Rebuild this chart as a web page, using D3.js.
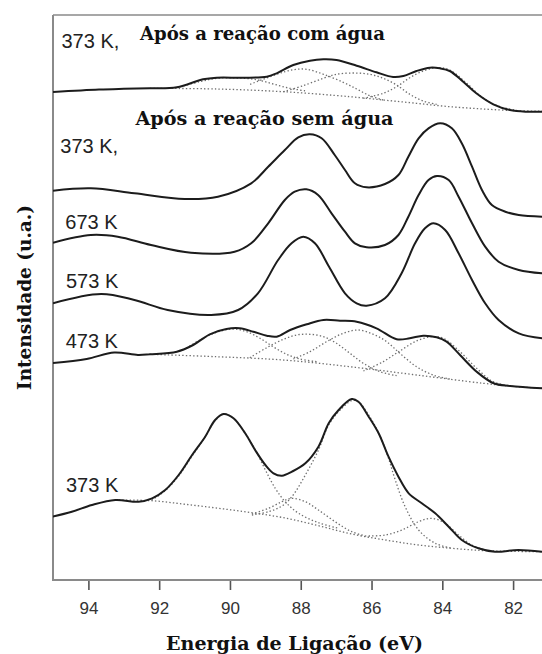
<!DOCTYPE html>
<html>
<head>
<meta charset="utf-8">
<script src="https://cdn.jsdelivr.net/npm/d3@7"></script>
<style>
  html, body { margin: 0; padding: 0; background: #fff; }
  svg { display: block; }
</style>
</head>
<body>
<svg id="chart" width="542" height="654"></svg>
<script>
// ---- Data: binding energy (eV), intensity (arbitrary units, stacked offsets) ----
const energyTicks = [94, 92, 90, 88, 86, 84, 82];
const spectrumLabels = ["373 K,", "373 K,", "673 K", "573 K", "473 K", "373 K"];
const groupTitles = ["Após a reação com água", "Após a reação sem água"];
const xTitle = "Energia de Ligação (eV)";
const yTitle = "Intensidade (u.a.)";

// 373 K, after reaction with water: measured envelope and fitted components
const wet373 = [[95.0,48.8],[93.7,49.05],[93.0,49.12],[92.27,49.17],[91.5,49.27],[90.76,50.07],[90.38,50.23],[89.62,50.23],[88.96,50.33],[88.68,50.67],[88.21,51.5],[87.74,51.93],[87.36,52.07],[86.99,52.0],[86.42,51.43],[85.86,50.77],[85.39,50.3],[85.1,50.4],[84.73,50.9],[84.35,51.23],[84.07,51.17],[83.79,50.9],[83.41,49.83],[83.04,48.67],[82.56,47.57],[82.09,47.0],[81.62,46.83],[81.18,46.83]];
const wet373Bg = [[92.26,49.17],[90.38,49.1],[88.49,48.83],[86.61,48.33],[85.67,48.0],[84.73,47.67],[83.79,47.33],[82.84,47.1],[81.9,46.93],[81.18,46.88]];
const wet373P1 = [[91.51,49.23],[90.85,49.83],[90.38,50.17],[89.81,50.2],[89.25,50.03],[88.78,49.6],[88.31,49.17],[87.83,48.9]];
const wet373P2 = [[89.43,49.57],[88.68,50.57],[88.21,51.03],[87.83,51.07],[87.36,50.57],[86.8,49.77],[86.42,49.1],[86.05,48.43],[85.67,48.0]];
const wet373P3 = [[88.49,48.83],[87.93,49.43],[87.36,50.17],[86.99,50.57],[86.52,50.7],[86.05,50.57],[85.67,50.17],[85.29,49.5],[84.92,48.57],[84.54,47.9],[84.16,47.57]];
const wet373P4 = [[86.23,48.17],[85.67,48.67],[85.29,49.33],[84.92,50.23],[84.54,50.9],[84.16,51.23],[83.79,51.0],[83.31,49.67],[82.84,48.17],[82.37,47.33],[81.9,46.97]];

// after reaction without water
const dry373 = [[95.0,38.93],[93.93,39.17],[92.7,38.67],[91.28,38.1],[90.34,38.33],[89.4,39.67],[88.92,41.33],[88.45,43.0],[88.07,44.27],[87.74,44.57],[87.41,44.17],[87.04,42.5],[86.75,41.0],[86.47,39.67],[86.14,39.27],[85.62,39.6],[85.24,40.5],[84.96,42.33],[84.67,44.17],[84.39,45.17],[84.06,45.67],[83.73,45.17],[83.45,43.67],[83.16,41.33],[82.88,39.0],[82.6,37.5],[82.22,36.83],[81.84,36.5],[81.18,36.33]];
const dry673 = [[95.0,33.73],[93.93,34.5],[93.17,34.33],[92.23,33.5],[91.1,32.73],[89.87,32.83],[89.4,33.67],[88.92,35.67],[88.45,38.0],[88.17,38.83],[87.84,39.07],[87.51,38.5],[87.13,36.67],[86.75,34.83],[86.47,33.67],[86.14,33.27],[85.62,33.5],[85.24,34.5],[84.96,36.33],[84.67,38.5],[84.39,40.0],[84.15,40.4],[83.82,40.0],[83.54,38.33],[83.16,35.67],[82.79,33.33],[82.41,31.83],[81.84,31.0],[81.18,30.67]];
const dry573 = [[95.0,27.67],[93.64,28.6],[92.7,28.0],[91.76,27.0],[90.53,26.5],[89.77,27.0],[89.21,28.67],[88.64,32.0],[88.26,33.67],[87.93,34.33],[87.6,33.67],[87.2,31.33],[86.75,28.67],[86.42,27.67],[86.14,27.43],[85.62,28.17],[85.15,30.67],[84.77,33.67],[84.49,35.17],[84.25,35.67],[83.92,35.0],[83.54,32.67],[83.16,30.0],[82.79,27.67],[82.41,26.0],[81.84,24.67],[81.18,24.17]];
const dry473 = [[95.0,21.7],[94.05,22.1],[93.27,22.75],[92.6,22.5],[92.26,22.57],[91.5,22.83],[91.04,23.5],[90.57,24.57],[90.1,25.1],[89.72,25.17],[89.34,24.83],[88.96,24.43],[88.68,24.33],[88.3,25.0],[87.83,25.57],[87.36,26.0],[86.89,25.93],[86.42,25.83],[85.86,25.17],[85.29,24.07],[84.92,24.17],[84.54,24.43],[84.16,24.27],[83.88,23.83],[83.5,22.5],[83.03,20.83],[82.55,19.67],[82.08,19.4],[81.18,19.17]];
const dry473Bg = [[92.26,22.57],[90.38,22.33],[88.49,22.0],[86.61,21.33],[84.73,20.5],[82.84,19.67],[81.9,19.33],[81.18,19.17]];
const dry473P1 = [[91.32,23.0],[90.85,24.0],[90.38,24.77],[89.91,25.1],[89.53,24.83],[89.15,24.17],[88.78,23.33],[88.4,22.57],[88.02,22.1],[87.55,21.83]];
const dry473P2 = [[89.44,22.23],[88.96,23.23],[88.49,24.07],[88.12,24.5],[87.74,24.57],[87.36,24.33],[86.99,23.67],[86.61,22.67],[86.23,21.67],[85.76,20.83],[85.29,20.43]];
const dry473P3 = [[88.21,22.1],[87.74,22.83],[87.27,23.83],[86.8,24.67],[86.37,25.0],[85.95,24.57],[85.57,23.83],[85.2,22.67],[84.73,21.33],[84.26,20.5],[83.79,20.1]];
const dry473P4 = [[86.23,20.9],[85.67,21.83],[85.2,22.9],[84.73,23.9],[84.3,24.33],[83.97,24.17],[83.5,22.83],[83.03,21.17],[82.56,19.83],[82.09,19.4]];

// 373 K reference spectrum with its fit
const base373 = [[95.03,6.33],[94.47,6.83],[93.9,7.5],[93.24,8.0],[92.58,7.83],[92.2,8.17],[91.83,9.0],[91.45,10.5],[91.07,12.5],[90.7,14.33],[90.42,16.0],[90.18,16.6],[89.9,16.17],[89.57,14.67],[89.29,13.0],[89.0,11.5],[88.77,10.67],[88.53,10.43],[88.25,10.83],[87.87,11.67],[87.5,13.33],[87.21,15.67],[86.93,17.0],[86.56,18.1],[86.37,17.83],[86.08,16.33],[85.8,14.67],[85.52,12.33],[85.24,10.33],[84.95,8.67],[84.58,7.67],[84.2,6.67],[83.82,5.33],[83.45,4.0],[82.98,3.17],[82.51,2.83],[81.85,3.0],[81.18,2.83]];
const base373Bg = [[93.24,8.0],[92.21,7.93],[91.26,7.57],[90.32,7.17],[89.38,6.73],[88.44,6.2],[87.5,5.43],[86.56,4.6],[85.61,4.0],[84.67,3.5],[83.73,3.17],[82.79,2.93],[81.18,2.83]];
const base373P1 = [[92.21,8.0],[91.83,8.93],[91.45,10.4],[91.07,12.4],[90.7,14.33],[90.42,15.93],[90.18,16.6],[89.9,16.17],[89.57,14.67],[89.29,13.07],[89.0,11.0],[88.72,9.17],[88.44,7.83],[88.06,6.67],[87.5,5.73],[86.93,5.17]];
const base373P2 = [[89.38,6.6],[88.91,7.17],[88.53,7.83],[88.25,8.17],[87.87,7.83],[87.5,7.0],[87.03,5.83],[86.56,4.83],[86.08,4.33]];
const base373P3 = [[89.38,6.5],[88.91,6.83],[88.53,7.4],[88.25,8.33],[87.87,10.5],[87.5,13.0],[87.21,15.5],[86.93,16.83],[86.56,17.93],[86.37,17.83],[86.08,16.5],[85.75,14.33],[85.52,12.17],[85.33,10.0],[85.05,7.33],[84.67,5.0],[84.2,3.67],[83.73,3.17]];
const base373P4 = [[86.08,4.4],[85.61,4.5],[85.14,5.0],[84.67,5.83],[84.3,6.17],[83.92,5.67],[83.54,4.5],[83.17,3.5],[82.79,3.0]];

// ---- Layout ----
const W = 542, H = 654;
const plot = { left: 53, top: 15, bottom: 580 };

const x = d3.scaleLinear().domain([95, 82]).range([plot.left, 513.1]);
const y = d3.scaleLinear().domain([0, 56.5]).range([plot.bottom, plot.top]);

const svg = d3.select("#chart");

svg.append("defs").append("clipPath").attr("id", "plotClip")
  .append("rect").attr("x", plot.left).attr("y", plot.top)
  .attr("width", W - plot.left).attr("height", plot.bottom - plot.top);

// frame: left and top edges
svg.append("line")
  .attr("x1", plot.left).attr("x2", plot.left)
  .attr("y1", plot.top).attr("y2", plot.bottom)
  .attr("stroke", "#8a8a8a").attr("stroke-width", 2);
svg.append("line")
  .attr("x1", plot.left).attr("x2", W)
  .attr("y1", plot.top).attr("y2", plot.top)
  .attr("stroke", "#8a8a8a").attr("stroke-width", 1.6);

// bottom axis
const xAxis = d3.axisBottom(x).tickValues(energyTicks).tickSize(10).tickPadding(12.2)
  .tickFormat(d3.format("d"));
const gx = svg.append("g").attr("transform", `translate(0,${plot.bottom})`).call(xAxis);
gx.select(".domain").remove();
gx.selectAll(".tick line").attr("stroke", "#555").attr("stroke-width", 1.6);
gx.selectAll(".tick text")
  .attr("font-family", "'Liberation Sans', Arial, sans-serif")
  .attr("font-size", 17).attr("fill", "#333");
svg.append("line")
  .attr("x1", plot.left - 1).attr("x2", W)
  .attr("y1", plot.bottom).attr("y2", plot.bottom)
  .attr("stroke", "#8a8a8a").attr("stroke-width", 2);

// curves
const line = d3.line()
  .x(d => x(d[0])).y(d => y(d[1]))
  .curve(d3.curveCatmullRom.alpha(0.5));

const fitComponents = [
  wet373Bg, wet373P1, wet373P2, wet373P3, wet373P4,
  dry473Bg, dry473P1, dry473P2, dry473P3, dry473P4,
  base373Bg, base373P1, base373P2, base373P3, base373P4
];
const envelopes = [wet373, dry373, dry673, dry573, dry473, base373];

const curves = svg.append("g").attr("clip-path", "url(#plotClip)");
curves.selectAll("path.fit").data(fitComponents).join("path")
  .attr("class", "fit")
  .attr("d", line)
  .attr("fill", "none")
  .attr("stroke", "#6f6f6f")
  .attr("stroke-width", 1.3)
  .attr("stroke-dasharray", "1.4 2.2");
curves.selectAll("path.env").data(envelopes).join("path")
  .attr("class", "env")
  .attr("d", line)
  .attr("fill", "none")
  .attr("stroke", "#1c1c1c")
  .attr("stroke-width", 2)
  .attr("stroke-linejoin", "round");

// spectrum labels
const labelPos = [[61.5, 48.4], [60.3, 153.3], [65.3, 229], [66, 288.3], [65.7, 348.1], [66, 491.7]];
svg.selectAll("text.temp").data(spectrumLabels).join("text")
  .attr("class", "temp")
  .attr("x", (d, i) => labelPos[i][0])
  .attr("y", (d, i) => labelPos[i][1])
  .attr("font-family", "'Liberation Sans', Arial, sans-serif")
  .attr("font-size", 20)
  .attr("fill", "#222")
  .text(d => d);

// group titles
const titlePos = [[140, 39.8, 245], [135.5, 125, 258]];
svg.selectAll("text.group").data(groupTitles).join("text")
  .attr("class", "group")
  .attr("x", (d, i) => titlePos[i][0])
  .attr("y", (d, i) => titlePos[i][1])
  .attr("textLength", (d, i) => titlePos[i][2])
  .attr("lengthAdjust", "spacingAndGlyphs")
  .attr("font-family", "'DejaVu Serif', serif")
  .attr("font-weight", "bold")
  .attr("font-size", 18)
  .attr("fill", "#111")
  .text(d => d);

// axis titles
svg.append("text")
  .attr("x", 166).attr("y", 650)
  .attr("textLength", 257).attr("lengthAdjust", "spacingAndGlyphs")
  .attr("font-family", "'DejaVu Serif', serif")
  .attr("font-weight", "bold").attr("font-size", 18)
  .attr("fill", "#111")
  .text(xTitle);

svg.append("text")
  .attr("transform", "translate(31,297.5) rotate(-90)")
  .attr("text-anchor", "middle")
  .attr("textLength", 185).attr("lengthAdjust", "spacingAndGlyphs")
  .attr("font-family", "'DejaVu Serif', serif")
  .attr("font-weight", "bold").attr("font-size", 18)
  .attr("fill", "#111")
  .text(yTitle);
</script>
</body>
</html>
